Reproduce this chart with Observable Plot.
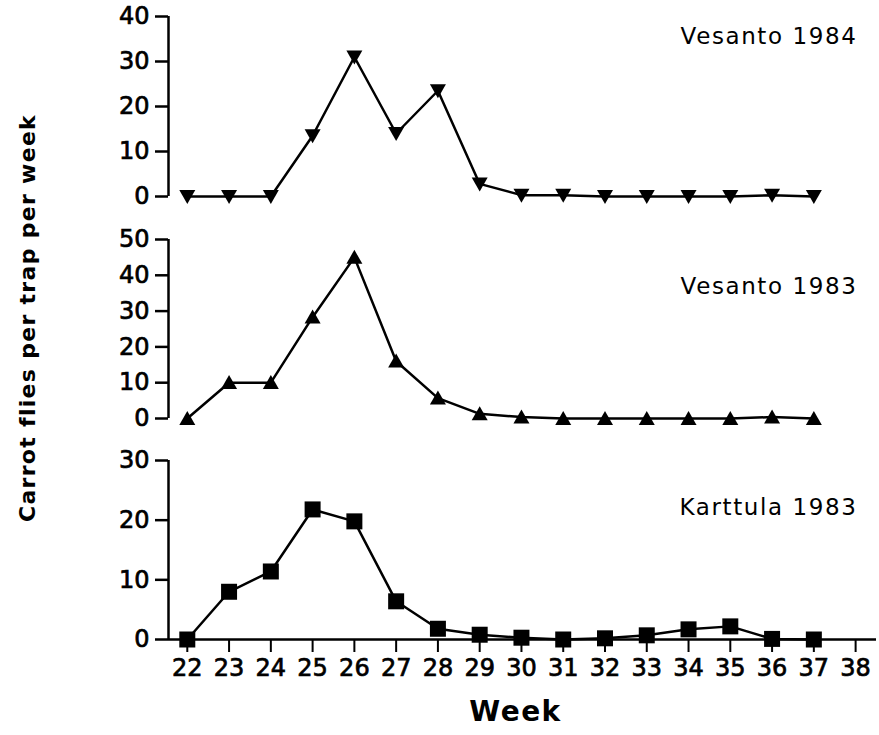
<!DOCTYPE html>
<html>
<head>
<meta charset="utf-8">
<script src="https://cdn.jsdelivr.net/npm/d3@7"></script>
<script src="https://cdn.jsdelivr.net/npm/@observablehq/plot@0.6"></script>
<style>
  html, body { margin: 0; padding: 0; background: #fff; }
  #chart { position: relative; width: 879px; height: 735px; font-family: "DejaVu Sans", sans-serif; color: #000; }
  #chart svg { position: absolute; left: 0; overflow: visible; }
  #chart svg [aria-label$="tick label"] text, #chart svg g[aria-label$="tick label"] { stroke: #000; stroke-width: 0.7px; }
  #chart svg text.panel-label { letter-spacing: 1.6px; }
  #chart svg text.week-label { letter-spacing: 1.5px; }
  #ytitle { position: absolute; left: 27px; top: 318px; transform: translate(-50%, -50%) rotate(-90deg);
            white-space: nowrap; font-size: 22px; font-weight: bold; letter-spacing: 1.3px; }
</style>
</head>
<body>
<div id="chart"><div id="ytitle">Carrot flies per trap per week</div></div>
<script>
// ---- data ----
const weeks = [22, 23, 24, 25, 26, 27, 28, 29, 30, 31, 32, 33, 34, 35, 36, 37];
const vesanto1984 = [0, 0, 0, 13.5, 31, 14, 23.5, 2.8, 0.3, 0.3, 0, 0, 0, 0, 0.3, 0];
const vesanto1983 = [0, 10, 10, 28.3, 45, 16, 5.7, 1.3, 0.4, 0, 0, 0, 0, 0, 0.4, 0];
const karttula1983 = [0, 8, 11.4, 21.8, 19.8, 6.4, 1.8, 0.8, 0.3, 0, 0.2, 0.7, 1.7, 2.2, 0.1, 0];
const weekTicks = [22, 23, 24, 25, 26, 27, 28, 29, 30, 31, 32, 33, 34, 35, 36, 37, 38];
const panelLabels = ["Vesanto 1984", "Vesanto 1983", "Karttula 1983"];
const yTicks1984 = [0, 10, 20, 30, 40];
const yTicks1983 = [0, 10, 20, 30, 40, 50];
const yTicksK = [0, 10, 20, 30];
const xLabel = "Week";

// ---- symbols ----
const triDown = { draw(ctx, size) { const r = Math.sqrt(size / Math.PI);
  ctx.moveTo(-r, -0.8 * r); ctx.lineTo(r, -0.8 * r); ctx.lineTo(0, 0.95 * r); ctx.closePath(); } };
const triUp = { draw(ctx, size) { const r = Math.sqrt(size / Math.PI);
  ctx.moveTo(-r, 0.8 * r); ctx.lineTo(r, 0.8 * r); ctx.lineTo(0, -0.95 * r); ctx.closePath(); } };
const square = { draw(ctx, size) { const r = Math.sqrt(size / Math.PI);
  ctx.rect(-r, -r, 2 * r, 2 * r); } };

const xDomain = [21.55, 38.5];
const font = { fontFamily: "DejaVu Sans, sans-serif", fontSize: "24px", color: "#000", background: "transparent", overflow: "visible" };

function panel({values, ymax, ticks, symbol, label, top, height, marginTop, marginBottom, labelDy, bottom}) {
  const data = weeks.map((w, i) => ({ week: w, value: values[i] }));
  const marks = [
    Plot.ruleX([xDomain[0]], { strokeWidth: 2.5 }),
    Plot.axisY({ ticks, tickSize: 13, tickPadding: 6, strokeWidth: 2.5, label: null, fontSize: 24 }),
    Plot.line(data, { x: "week", y: "value", strokeWidth: 2.5, stroke: "#000" }),
    Plot.dot(data, { x: "week", y: "value", symbol, r: 8, fill: "#000", stroke: "none" }),
    Plot.text([label], { text: d => d, frameAnchor: "top-right", textAnchor: "end", lineAnchor: "top",
      dx: -19, dy: labelDy, fontSize: 23, fill: "#000" })
  ];
  if (bottom) {
    marks.push(
      Plot.ruleY([0], { strokeWidth: 2.5 }),
      Plot.axisX({ ticks: weekTicks, tickSize: 13, tickPadding: 6, strokeWidth: 2, label: null, fontSize: 24 }),
      Plot.text([xLabel], { text: d => d, frameAnchor: "bottom", lineAnchor: "top", dx: -7, dy: 62,
        fontSize: 28, fontWeight: "bold", fill: "#000" })
    );
  }
  const svg = Plot.plot({
    width: 879, height, marginLeft: 168, marginRight: 3, marginTop, marginBottom,
    style: font,
    x: { domain: xDomain, axis: bottom ? undefined : null },
    y: { domain: [0, ymax] },
    marks
  });
  svg.style.top = top + "px";
  svg.querySelectorAll("text").forEach(t => {
    if (panelLabels.includes(t.textContent)) t.classList.add("panel-label");
    if (t.textContent === xLabel) t.classList.add("week-label");
  });
  return svg;
}

const chart = document.getElementById("chart");
chart.appendChild(panel({ values: vesanto1984, ymax: 40, ticks: yTicks1984, symbol: triDown, label: panelLabels[0],
  top: 0, height: 210, marginTop: 16, marginBottom: 14, labelDy: 11 }));
chart.appendChild(panel({ values: vesanto1983, ymax: 50, ticks: yTicks1983, symbol: triUp, label: panelLabels[1],
  top: 210, height: 220, marginTop: 29, marginBottom: 12, labelDy: 38 }));
chart.appendChild(panel({ values: karttula1983, ymax: 30, ticks: yTicksK, symbol: square, label: panelLabels[2],
  top: 430, height: 305, marginTop: 30, marginBottom: 96, labelDy: 38, bottom: true }));
</script>
</body>
</html>
